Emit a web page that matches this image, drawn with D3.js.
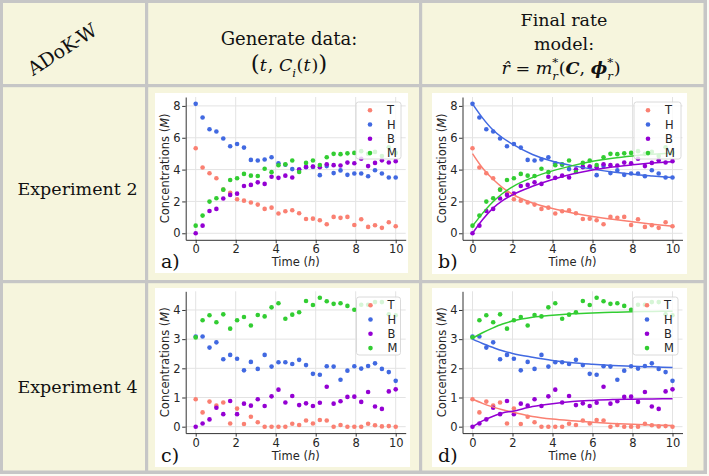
<!DOCTYPE html>
<html><head><meta charset="utf-8">
<script src="https://cdn.jsdelivr.net/npm/d3@7"></script>
<style>body{margin:0;background:#fff} text{white-space:pre}</style>
</head><body>
<svg id="c" width="709" height="476"></svg>
<script>
// ---------- data ----------
const times = [0,0.345,0.690,1.034,1.379,1.724,2.069,2.414,2.759,3.103,3.448,3.793,4.138,4.483,4.828,5.172,5.517,5.862,6.207,6.552,6.897,7.241,7.586,7.931,8.276,8.621,8.966,9.310,9.655,10];
const species = ["T","H","B","M"];
const colors = ["#fa8072","#4169e1","#9400d3","#32cd32"];

const exp2T = [5.34,4.13,3.77,3.46,2.75,2.55,2.14,2.05,1.93,1.80,1.53,1.61,1.24,1.38,1.45,1.26,0.90,0.92,0.82,0.57,1.03,0.97,1.03,0.52,0.88,0.40,0.50,0.34,0.69,0.44];
const exp2H = [8.13,7.27,6.53,6.39,5.95,5.47,5.61,5.38,4.61,4.57,4.63,4.78,4.40,4.30,4.03,4.00,4.15,4.17,3.65,4.22,3.78,3.95,3.67,3.75,3.75,3.58,3.96,3.75,3.50,3.50];
const exp2B = [0.00,0.48,1.40,1.53,2.18,2.41,2.49,2.97,3.04,3.20,3.10,3.55,3.48,3.62,3.50,4.00,4.17,4.19,4.15,4.34,4.28,4.26,4.44,4.40,4.68,4.22,4.42,4.58,4.45,4.53];
const exp2M = [0.48,1.11,1.99,2.20,2.74,3.35,3.46,3.73,3.62,3.60,4.05,3.84,4.27,4.33,4.57,3.85,4.42,4.57,4.29,4.78,4.99,4.97,5.02,5.05,5.16,4.99,5.11,4.85,5.40,5.05];

const exp4T = [0.94,0.49,0.86,0.72,0.83,0.11,0.62,0.09,0.34,0.15,0.00,0.00,0.00,0.00,0.10,0.06,0.21,0.11,0.23,0.21,0.00,0.06,0.00,0.00,0.00,0.10,0.05,0.01,0.02,0.00];
const exp4H = [3.09,3.09,2.71,2.89,2.31,2.46,2.33,1.93,2.22,1.98,2.46,2.06,2.21,2.21,2.15,2.29,2.11,1.81,1.78,2.07,2.06,1.61,1.92,2.07,1.99,2.08,2.17,1.98,1.87,1.57];
const exp4B = [0.00,0.11,0.25,0.65,0.43,0.88,0.43,0.79,0.72,0.94,0.71,1.04,1.27,0.83,1.05,0.74,0.80,0.71,0.82,1.37,0.79,0.87,1.02,1.03,0.85,1.19,0.69,0.61,1.21,1.28];
const exp4M = [3.06,3.65,3.82,3.58,3.85,3.36,3.65,3.76,3.47,3.83,3.78,4.09,4.23,3.70,3.84,3.92,4.31,4.17,4.42,4.30,4.21,4.23,4.14,4.01,4.18,4.18,4.27,4.27,3.85,3.82];

const fitTimes = [0,0.5,1,1.5,2,3,4,5,6,7,8,9,10];
const fit2T = [5.00,4.10,3.42,2.87,2.45,1.90,1.55,1.28,1.06,0.88,0.72,0.57,0.44];
const fit2H = [8.13,7.25,6.52,6.00,5.60,4.95,4.52,4.25,4.03,3.85,3.71,3.60,3.50];
const fit2B = [0.00,0.85,1.55,2.05,2.42,2.95,3.38,3.72,3.98,4.17,4.30,4.41,4.49];
const fit2M = [0.45,1.25,1.95,2.50,2.92,3.50,3.92,4.25,4.52,4.72,4.86,4.96,5.04];

const fit4T = [0.95,0.80,0.68,0.58,0.50,0.35,0.26,0.20,0.15,0.11,0.08,0.06,0.04];
const fit4H = [3.00,2.85,2.72,2.60,2.51,2.38,2.27,2.19,2.14,2.10,2.07,2.05,2.03];
const fit4B = [0.00,0.20,0.35,0.47,0.53,0.69,0.79,0.86,0.90,0.93,0.94,0.95,0.96];
const fit4M = [3.03,3.22,3.38,3.52,3.62,3.75,3.82,3.87,3.90,3.92,3.94,3.95,3.96];

const xTicks = [0,2,4,6,8,10];
const yTicks2 = [0,2,4,6,8];
const yTicks4 = [0,1,2,3,4];
const xDomain = [-0.5,10.5];
const yDomain2 = [-0.41,8.56];
const yDomain4 = [-0.22,4.64];

// ---------- layout ----------
const svg = d3.select("#c");
const BG = "#f6f5dd", BORDER = "#c6c6c6";
svg.append("rect").attr("width",709).attr("height",476).attr("fill","#fbfbf3");
svg.append("rect").attr("x",0).attr("y",0).attr("width",707).attr("height",474).attr("fill",BG);
const bw = 3.2;
[[0,0,707,3],[0,0,3,474],[703.5,0,3.5,474],[0,470.5,707,3.5],
 [145,0,bw,474],[419,0,bw,474],[0,84,707,bw],[0,280,707,bw]].forEach(r=>{
  svg.append("rect").attr("x",r[0]).attr("y",r[1]).attr("width",r[2]).attr("height",r[3]).attr("fill",BORDER);
});

const serif = "'DejaVu Serif', serif";
const sans = "'DejaVu Sans', sans-serif";

// header
svg.append("text").attr("transform","translate(62,49) rotate(-33)")
  .attr("text-anchor","middle").attr("dominant-baseline","central")
  .attr("font-family",serif).attr("font-size",19).attr("fill","#111").text("ADoK-W");

function plain(txt,x,y,size){
  svg.append("text").attr("x",x).attr("y",y).attr("text-anchor","middle")
   .attr("font-family",serif).attr("font-size",size).attr("fill","#111").text(txt);
}
plain("Generate data:",289,45,18);
plain("Final rate",564,26,17.5);
plain("model:",564,50,17.5);
plain("Experiment 2",77.5,195,17.5);
plain("Experiment 4",77.5,393,17.5);

function measure(str, size, it, b){
  if (!str) return 0;
  const t = svg.append("text").attr("font-family",serif).attr("font-size",size)
    .attr("font-style",it?"italic":null).attr("font-weight",b?"bold":null).text(str);
  const w = t.node().getComputedTextLength(); t.remove(); return w;
}
function mathText(cx, base, pieces, size){
  const t = svg.append("text").attr("font-family",serif).attr("fill","#111").attr("x",0).attr("y",base);
  let shift = 0, pendingDx = 0;
  const ss = size*0.68, supOff = -size*0.45, subOff = size*0.32;
  pieces.forEach(p=>{
    if (p.sup !== undefined || p.sub !== undefined){
      const wSup = measure(p.sup, ss, true), wSub = measure(p.sub, ss, true);
      let back = 0;
      if (p.sup){
        t.append("tspan").attr("font-size",ss).attr("font-style","italic")
          .attr("dx",pendingDx).attr("dy",supOff-shift).text(p.sup);
        shift = supOff; pendingDx = 0; back = wSup;
      }
      if (p.sub){
        t.append("tspan").attr("font-size",ss).attr("font-style","italic")
          .attr("dx",pendingDx-back).attr("dy",subOff-shift).text(p.sub);
        shift = subOff;
      }
      pendingDx = Math.max(0, wSup-wSub) + 0.5;
    } else {
      t.append("tspan").attr("font-size",p.size||size)
        .attr("font-style",p.it?"italic":null).attr("font-weight",p.b?"bold":null)
        .attr("dx",pendingDx).attr("dy",-shift).text(p.t);
      shift = 0; pendingDx = p.gap||0;
    }
  });
  const bb = t.node().getBBox();
  t.attr("transform",`translate(${cx - (bb.x + bb.width/2)},0)`);
}
mathText(289,71,[
  {t:"(",size:23},{t:"t",it:true,gap:1},{t:", "},{t:"C",it:true},{sub:"i"},{t:"("},{t:"t",it:true,gap:1},{t:")"},{t:")",size:23}
],17.5);
mathText(561,74,[
  {t:"r\u0302",it:true},{t:" = "},{t:"m",it:true},{sup:"*",sub:"r"},{t:"("},{t:"C",it:true,b:true},{t:", "},{t:"\u03D5",it:true,b:true},{sup:"*",sub:"r"},{t:")"}
],17.5);

// ---------- panels ----------
const panels = [
 {label:"a)", box:[155,93,253,180], xr:[185.7,405.7], yr:[239.8,97], yd:yDomain2, yt:yTicks2,
  pts:[exp2T,exp2H,exp2B,exp2M], fit:null, leg:[356,102,45,57]},
 {label:"b)", box:[432,93,255,181], xr:[462.5,682.5], yr:[239.8,97], yd:yDomain2, yt:yTicks2,
  pts:[exp2T,exp2H,exp2B,exp2M], fit:[fit2T,fit2H,fit2B,fit2M], leg:[634,102,47,57]},
 {label:"c)", box:[155,288,255,179], xr:[185.7,405.7], yr:[433.1,291.3], yd:yDomain4, yt:yTicks4,
  pts:[exp4T,exp4H,exp4B,exp4M], fit:null, leg:[356.5,297,44,58]},
 {label:"d)", box:[432,288,255,179], xr:[462.5,682.5], yr:[433.1,291.3], yd:yDomain4, yt:yTicks4,
  pts:[exp4T,exp4H,exp4B,exp4M], fit:[fit4T,fit4H,fit4B,fit4M], leg:[633,297,45,58]},
];

panels.forEach(P=>{
  const g = svg.append("g");
  g.append("rect").attr("x",P.box[0]).attr("y",P.box[1]).attr("width",P.box[2]).attr("height",P.box[3]).attr("fill","#fff");
  const x = d3.scaleLinear().domain(xDomain).range(P.xr);
  const y = d3.scaleLinear().domain(P.yd).range(P.yr);
  g.selectAll(".gx").data(xTicks).join("line").attr("x1",d=>x(d)).attr("x2",d=>x(d))
    .attr("y1",P.yr[0]).attr("y2",P.yr[1]).attr("stroke","#e3e3e3").attr("stroke-width",1);
  g.selectAll(".gy").data(P.yt).join("line").attr("y1",d=>y(d)).attr("y2",d=>y(d))
    .attr("x1",P.xr[0]).attr("x2",P.xr[1]).attr("stroke","#e3e3e3").attr("stroke-width",1);
  P.pts.forEach((arr,si)=>{
    g.append("g").selectAll("circle").data(arr).join("circle")
      .attr("cx",(d,i)=>x(times[i])).attr("cy",d=>y(d)).attr("r",2.3).attr("fill",colors[si]);
  });
  if (P.fit){
    P.fit.forEach((arr,si)=>{
      const line = d3.line().x((d,i)=>x(fitTimes[i])).y(d=>y(d)).curve(d3.curveMonotoneX);
      g.append("path").attr("d",line(arr)).attr("fill","none").attr("stroke",colors[si]).attr("stroke-width",1.5);
    });
  }
  const ax = g.append("g").attr("transform",`translate(0,${P.yr[0]})`)
    .call(d3.axisBottom(x).tickValues(xTicks).tickFormat(d3.format("d")).tickSize(3.5).tickSizeOuter(0).tickPadding(2));
  const ay = g.append("g").attr("transform",`translate(${P.xr[0]},0)`)
    .call(d3.axisLeft(y).tickValues(P.yt).tickFormat(d3.format("d")).tickSize(3.5).tickSizeOuter(0).tickPadding(1.5));
  [ax,ay].forEach(a=>{
    a.selectAll("text").attr("font-family",sans).attr("font-size",11.5).attr("fill","#262626");
    a.selectAll("line").attr("stroke","#333");
    a.select(".domain").attr("stroke","#333");
  });
  const xl = g.append("text").attr("x",(P.xr[0]+P.xr[1])/2).attr("y",P.yr[0]+26.5).attr("text-anchor","middle")
    .attr("font-family",sans).attr("font-size",11.5).attr("fill","#262626");
  xl.append("tspan").text("Time (");
  xl.append("tspan").attr("font-style","italic").text("h");
  xl.append("tspan").text(")");
  const yc = (P.yr[0]+P.yr[1])/2;
  const yl = g.append("text").attr("transform",`translate(${P.xr[0]-17},${yc}) rotate(-90)`).attr("text-anchor","middle")
    .attr("font-family",sans).attr("font-size",11.5).attr("fill","#262626");
  yl.append("tspan").text("Concentrations (");
  yl.append("tspan").attr("font-style","italic").text("M");
  yl.append("tspan").text(")");
  const L = P.leg;
  const lg = g.append("g");
  lg.append("rect").attr("x",L[0]).attr("y",L[1]).attr("width",L[2]).attr("height",L[3]).attr("rx",2.5)
    .attr("fill","#fff").attr("fill-opacity",0.8).attr("stroke","#d0d0d0").attr("stroke-width",0.8);
  species.forEach((s,i)=>{
    const yy = L[1]+8.2+i*14.3;
    lg.append("circle").attr("cx",L[0]+14).attr("cy",yy).attr("r",2.3).attr("fill",colors[i]);
    lg.append("text").attr("x",L[0]+31).attr("y",yy).attr("dy","0.36em").attr("font-family",sans)
      .attr("font-size",11.5).attr("fill","#262626").text(s);
  });
  g.append("text").attr("x",P.box[0]+6).attr("y",P.yr[0]+28.5).attr("font-family",serif)
    .attr("font-size",19).attr("fill","#111").text(P.label);
});
</script>
</body></html>
